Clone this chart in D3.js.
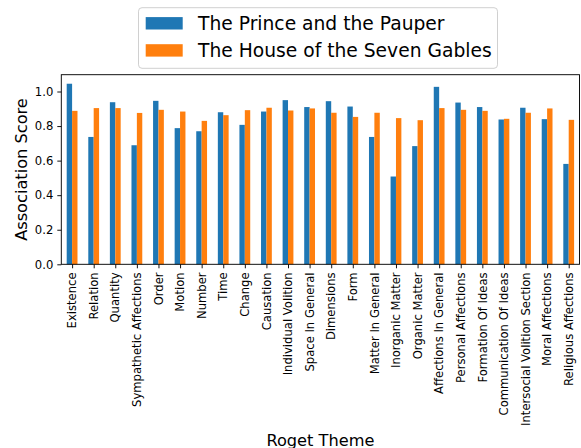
<!DOCTYPE html>
<html>
<head>
<meta charset="utf-8">
<script src="https://cdn.jsdelivr.net/npm/d3@7"></script>
<style>
  html, body { margin: 0; padding: 0; background: #fff; }
  svg { display: block; font-family: "DejaVu Sans", sans-serif; }
</style>
</head>
<body>
<svg id="chart" width="581" height="448"></svg>
<script>
// Roget theme categories and the association score for each novel
const themes = [
  "Existence", "Relation", "Quantity", "Sympathetic Affections", "Order", "Motion",
  "Number", "Time", "Change", "Causation", "Individual Volition", "Space In General",
  "Dimensions", "Form", "Matter In General", "Inorganic Matter", "Organic Matter",
  "Affections In General", "Personal Affections", "Formation Of Ideas",
  "Communication Of Ideas", "Intersocial Volition Section", "Moral Affections",
  "Religious Affections"
];
const princeScores = [
  1.045, 0.737, 0.938, 0.689, 0.946, 0.788, 0.770, 0.880, 0.807, 0.884, 0.950, 0.910,
  0.944, 0.913, 0.737, 0.508, 0.684, 1.027, 0.936, 0.910, 0.838, 0.906, 0.840, 0.581
];
const gablesScores = [
  0.888, 0.904, 0.904, 0.876, 0.894, 0.884, 0.830, 0.863, 0.892, 0.906, 0.890, 0.902,
  0.877, 0.853, 0.877, 0.846, 0.834, 0.904, 0.894, 0.888, 0.842, 0.877, 0.902, 0.836
];
const seriesNames = ["The Prince and the Pauper", "The House of the Seven Gables"];
const yTicks = [0.0, 0.2, 0.4, 0.6, 0.8, 1.0];

const seriesColors = ["#1f77b4", "#ff7f0e"];
const seriesValues = [princeScores, gablesScores];

const svg = d3.select("#chart");
const margin = { left: 61.3, right: 1.5, top: 74.7, bottom: 183.7 };
const W = 581, H = 448;
const x0 = margin.left, x1 = W - margin.right;
const y0 = H - margin.bottom, y1 = margin.top;
const tickFont = 11.6, titleFont = 16.2, legendFont = 18.7;
const lw = 0.93;

const maxVal = d3.max(seriesValues.flat());
const x = d3.scalePoint().domain(themes).range([x0, x1]).padding(0.5);
const step = x.step();
const xs = d3.scaleBand().domain(d3.range(seriesNames.length))
  .range([-0.25 * step, 0.25 * step]);
const y = d3.scaleLinear().domain([0, maxVal * 1.05]).range([y0, y1]);

// bars
seriesNames.forEach((name, si) => {
  svg.append("g").selectAll("rect")
    .data(themes.map((t, i) => ({ t, v: seriesValues[si][i] })))
    .join("rect")
    .attr("x", d => x(d.t) + xs(si))
    .attr("width", xs.bandwidth())
    .attr("y", d => y(d.v))
    .attr("height", d => y(0) - y(d.v))
    .attr("fill", seriesColors[si]);
});

// y axis
const yAxis = d3.axisLeft(y).tickValues(yTicks).tickFormat(d3.format(".1f"))
  .tickSize(4).tickPadding(4);
const gy = svg.append("g").attr("transform", `translate(${x0},0)`).call(yAxis);
gy.select(".domain").remove();
gy.selectAll("line").attr("stroke", "#000").attr("stroke-width", lw);
gy.selectAll("text").attr("font-size", tickFont).attr("fill", "#000")
  .attr("font-family", "DejaVu Sans, sans-serif");

// x axis
const xAxis = d3.axisBottom(x).tickSize(4).tickPadding(4);
const gx = svg.append("g").attr("transform", `translate(0,${y0})`).call(xAxis);
gx.select(".domain").remove();
gx.selectAll("line").attr("stroke", "#000").attr("stroke-width", lw);
gx.selectAll("text")
  .attr("font-size", tickFont).attr("fill", "#000")
  .attr("font-family", "DejaVu Sans, sans-serif")
  .attr("text-anchor", "end")
  .attr("dy", "0.32em")
  .attr("transform", "translate(0,8.1) rotate(-90)")
  .attr("x", 0).attr("y", 0);

// frame
svg.append("rect")
  .attr("x", x0).attr("y", y1)
  .attr("width", x1 - x0).attr("height", y0 - y1)
  .attr("fill", "none").attr("stroke", "#000").attr("stroke-width", lw);

// axis titles
svg.append("text")
  .attr("x", (x0 + x1) / 2).attr("y", 445.5)
  .attr("text-anchor", "middle").attr("font-size", titleFont).attr("fill", "#000")
  .text("Roget Theme");
svg.append("text")
  .attr("transform", `translate(21.5,${(y0 + y1) / 2}) rotate(-90)`)
  .attr("text-anchor", "middle").attr("dy", "0.36em")
  .attr("font-size", titleFont).attr("fill", "#000")
  .text("Association Score");

// legend
const lg = svg.append("g");
lg.append("rect")
  .attr("x", 138.5).attr("y", 7.7).attr("width", 359).attr("height", 60.6)
  .attr("rx", 3.5).attr("fill", "#fff").attr("fill-opacity", 0.8)
  .attr("stroke", "#d0d0d0").attr("stroke-width", 1);
seriesNames.forEach((name, i) => {
  const cy = 23.3 + i * 27.1;
  lg.append("rect")
    .attr("x", 145.7).attr("y", cy - 6.2).attr("width", 37).attr("height", 12.4)
    .attr("fill", seriesColors[i]);
  lg.append("text")
    .attr("x", 198).attr("y", cy).attr("dy", "0.36em")
    .attr("font-size", legendFont).attr("fill", "#000")
    .text(name);
});
</script>
</body>
</html>
